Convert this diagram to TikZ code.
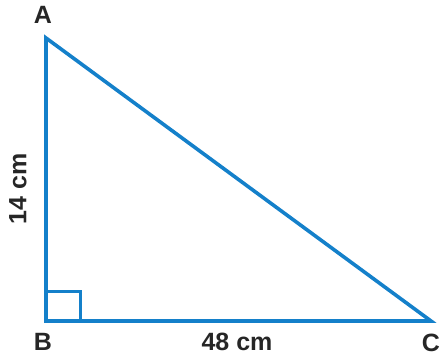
\documentclass[tikz,border=0pt]{standalone}
\usepackage{fontspec}
\setmainfont{Liberation Sans}
\definecolor{triblue}{RGB}{20,128,202}
\begin{document}
\begin{tikzpicture}[x=1pt,y=-1pt,
  edge/.style={draw=triblue,line width=3.6pt,line join=miter},
  lbl/.style={font=\fontsize{25}{25}\selectfont\bfseries,inner sep=0pt,text=black!85}]
\useasboundingbox (0,0) rectangle (444,360);
\coordinate (A) at (46,38);
\coordinate (B) at (46,321);
\coordinate (C) at (431,321);
\draw[edge] (A) -- (B) -- (C) -- cycle;
\draw[edge,line width=3pt] ([yshift=30pt]B) -| ([xshift=34pt]B);
\node[lbl] (la) at (43,15) {A};
\node[lbl] (lb) at (43,342) {B};
\node[lbl] (lc) at (431,343) {C};
\node[lbl] (lab) at (18,189) [rotate=90] {14 cm};
\node[lbl] (lbc) at (237,342) {48 cm};
\end{tikzpicture}
\end{document}
